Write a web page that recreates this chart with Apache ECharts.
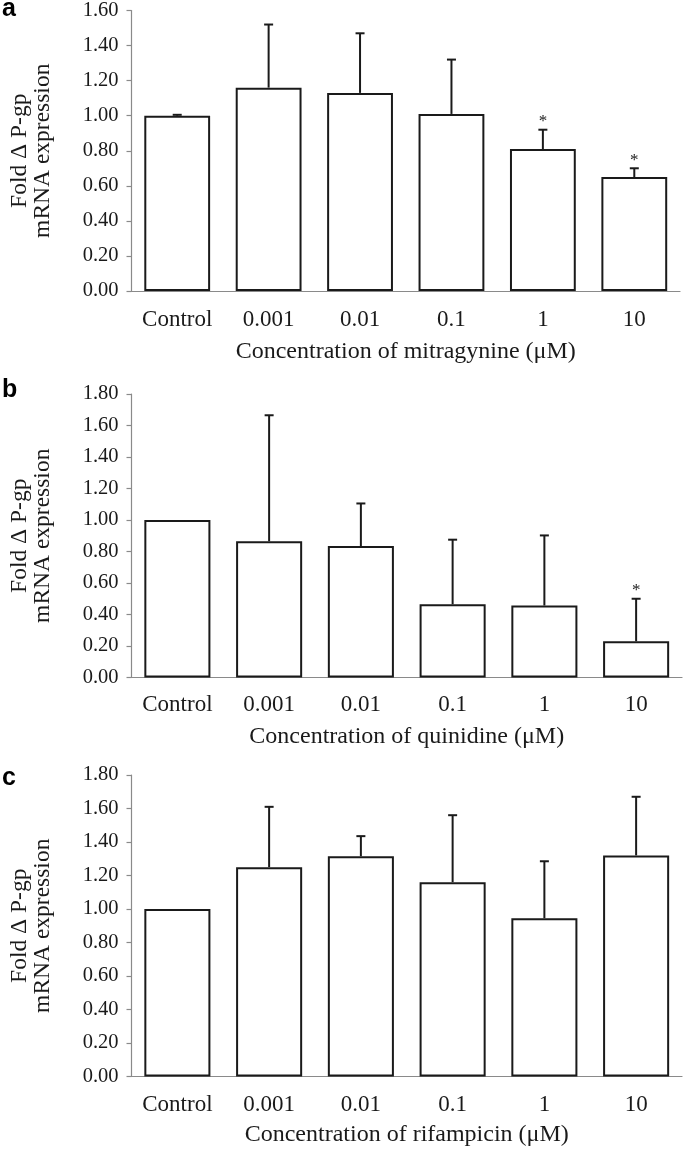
<!DOCTYPE html>
<html>
<head>
<meta charset="utf-8">
<script src="https://cdn.jsdelivr.net/npm/echarts@6/dist/echarts.min.js"></script>
<style>
html,body{margin:0;padding:0;background:#fff;}
#chart{width:685px;height:1150px;}
</style>
</head>
<body>
<div id="chart"></div>
<script>
// ---- data ----
const categories = ['Control', '0.001', '0.01', '0.1', '1', '10'];

const mitragynineMean = [1.00, 1.16, 1.13, 1.01, 0.81, 0.65];
const mitragynineSD   = [0.005, 0.36, 0.34, 0.31, 0.11, 0.05];
const mitragynineSig  = [0, 0, 0, 0, 1, 1];

const quinidineMean = [1.00, 0.865, 0.835, 0.465, 0.457, 0.23];
const quinidineSD   = [0, 0.80, 0.27, 0.41, 0.445, 0.27];
const quinidineSig  = [0, 0, 0, 0, 0, 1];

const rifampicinMean = [1.00, 1.25, 1.315, 1.16, 0.945, 1.32];
const rifampicinSD   = [0, 0.36, 0.12, 0.40, 0.34, 0.35];
const rifampicinSig  = [0, 0, 0, 0, 0, 0];

const panelLetters = ['a', 'b', 'c'];
const xTitles = [
  'Concentration of mitragynine (\u03bcM)',
  'Concentration of quinidine (\u03bcM)',
  'Concentration of rifampicin (\u03bcM)'
];
const yTitle = 'Fold \u0394 P-gp\nmRNA expression';
const yMax = [1.6, 1.8, 1.8];

// ---- chart ----
const SERIF = "'Liberation Serif', 'Times New Roman', serif";
const axisGray = '#8a8a8a';
const ink = '#1a1a1a';

const grids = [
  {left: 126, right: 5, top: 8, height: 283},
  {left: 126, right: 3, top: 394, height: 283.5},
  {left: 118, right: 3, top: 775, height: 301.5}
];

const panels = [
  {mean: mitragynineMean, sd: mitragynineSD, sig: mitragynineSig},
  {mean: quinidineMean, sd: quinidineSD, sig: quinidineSig},
  {mean: rifampicinMean, sd: rifampicinSD, sig: rifampicinSig}
];

const xAxes = [], yAxes = [], series = [], titles = [];
const letterTops = [-3, 378, 766];
const xNameGaps = [49, 47, 46];
const xLabelMargins = [17, 16, 17];

panels.forEach((p, i) => {
  xAxes.push({
    type: 'category', gridIndex: i, data: categories,
    axisLine: {lineStyle: {color: axisGray, width: 1.2}},
    axisTick: {show: false},
    axisLabel: {color: ink, fontFamily: SERIF, fontSize: 23, margin: xLabelMargins[i]},
    name: xTitles[i], nameLocation: 'middle', nameGap: xNameGaps[i],
    nameTextStyle: {color: ink, fontFamily: SERIF, fontSize: 24}
  });
  yAxes.push({
    type: 'value', gridIndex: i, min: 0, max: yMax[i], interval: 0.2,
    axisLine: {show: true, lineStyle: {color: axisGray, width: 1.2}},
    axisTick: {show: true, length: 5, lineStyle: {color: axisGray, width: 1.2}},
    splitLine: {show: false},
    axisLabel: {color: ink, fontFamily: SERIF, fontSize: 20.5, margin: 13,
      formatter: v => v.toFixed(2)},
    name: yTitle, nameLocation: 'middle', nameGap: 77,
    nameTextStyle: {color: ink, fontFamily: SERIF, fontSize: 23.5, lineHeight: 23}
  });
  series.push({
    type: 'bar', xAxisIndex: i, yAxisIndex: i, data: p.mean,
    barCategoryGap: '28%',
    itemStyle: {color: '#ffffff', borderColor: ink, borderWidth: 2},
    silent: true, z: 2
  });
  series.push({
    type: 'custom', xAxisIndex: i, yAxisIndex: i, z: 3, silent: true,
    data: p.mean.map((m, k) => [k, m, p.sd[k], p.sig[k]]),
    renderItem: function (params, api) {
      const x = api.value(0), m = api.value(1), sd = api.value(2), sig = api.value(3);
      const base = api.coord([x, m]);
      const top = api.coord([x, m + sd]);
      const children = [];
      if (sd > 0) {
        children.push({type: 'line', shape: {x1: base[0], y1: base[1], x2: top[0], y2: top[1]},
          style: {stroke: ink, lineWidth: 2}});
        children.push({type: 'line', shape: {x1: top[0] - 4.5, y1: top[1], x2: top[0] + 4.5, y2: top[1]},
          style: {stroke: ink, lineWidth: 2}});
      }
      if (sig) {
        children.push({type: 'text', style: {text: '*', x: top[0], y: top[1] - 8,
          fill: ink, fontFamily: SERIF, fontSize: 17, align: 'center', verticalAlign: 'middle'}});
      }
      return {type: 'group', children: children};
    }
  });
  titles.push({
    text: panelLetters[i], left: 2, top: letterTops[i], padding: 0,
    textStyle: {fontFamily: "'Liberation Sans', Arial, sans-serif", fontWeight: 'bold', fontSize: 25, color: '#000'}
  });
});

const chart = echarts.init(document.getElementById('chart'), null, {renderer: 'canvas'});
chart.setOption({
  animation: false,
  backgroundColor: '#ffffff',
  title: titles,
  grid: grids,
  xAxis: xAxes,
  yAxis: yAxes,
  series: series
});
</script>
</body>
</html>
